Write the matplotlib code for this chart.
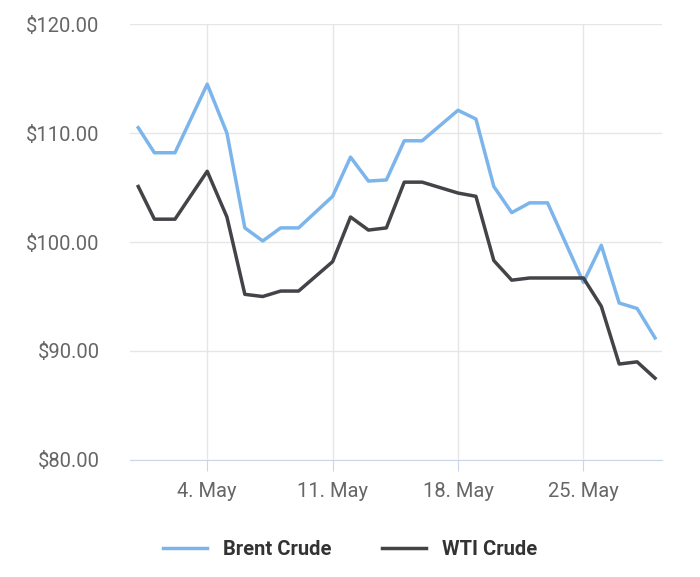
import matplotlib
matplotlib.use("Agg")
import matplotlib.pyplot as plt

# ── data (day of May, price in USD) ──────────────────────────────────
days = [0.15, 1.05, 2.2, 4, 5.1, 6.1, 7.1, 8.1, 9.1, 11, 12, 13, 14, 15, 16,
        18, 19, 20, 21, 22, 23, 25, 26, 27, 28, 29]
brent = [110.5, 108.2, 108.2, 114.5, 110.0, 101.3, 100.1, 101.3, 101.3, 104.2,
         107.8, 105.6, 105.7, 109.3, 109.3, 112.1, 111.3, 105.1, 102.7, 103.6,
         103.6, 96.3, 99.7, 94.4, 93.9, 91.2]
wti = [105.1, 102.1, 102.1, 106.5, 102.3, 95.2, 95.0, 95.5, 95.5, 98.2,
       102.3, 101.1, 101.3, 105.5, 105.5, 104.5, 104.2, 98.3, 96.5, 96.7,
       96.7, 96.7, 94.1, 88.8, 89.0, 87.5]
tick_days = [4, 11, 18, 25]
tick_labels = ["4. May", "11. May", "18. May", "25. May"]
y_ticks = [80, 90, 100, 110, 120]

plt.rcParams["font.family"] = ["Roboto", "DejaVu Sans"]

fig = plt.figure(figsize=(7, 5.77), dpi=100)
ax = fig.add_axes([0.186, 0.203, 0.76, 0.755])

ax.plot(days, brent, color="#7cb5ec", lw=2.5, label="Brent Crude")
ax.plot(days, wti, color="#434348", lw=2.5, label="WTI Crude")

ax.set_xlim(-0.3, 29.4)
ax.set_ylim(80, 120)
ax.set_yticks(y_ticks)
ax.set_yticklabels([f"${v:.2f}" for v in y_ticks])
ax.set_xticks(tick_days)
ax.set_xticklabels(tick_labels)
ax.grid(True, color="#e6e6e6", lw=1)
ax.set_axisbelow(True)
for s in ["top", "right", "left"]:
    ax.spines[s].set_visible(False)
ax.spines["bottom"].set_color("#ccd6eb")
ax.tick_params(axis="y", length=0, pad=22, labelsize=14.5, labelcolor="#666666")
ax.tick_params(axis="x", length=8, color="#ccd6eb", pad=8, labelsize=14.5,
               labelcolor="#666666")

leg = fig.legend(loc="center", bbox_to_anchor=(0.5, 0.048), ncol=2, frameon=False,
                 handlelength=2.2, columnspacing=2.5,
                 prop={"size": 14.5, "weight": "bold"})
for t in leg.get_texts():
    t.set_color("#333333")

fig.savefig("out.png", dpi=100)
